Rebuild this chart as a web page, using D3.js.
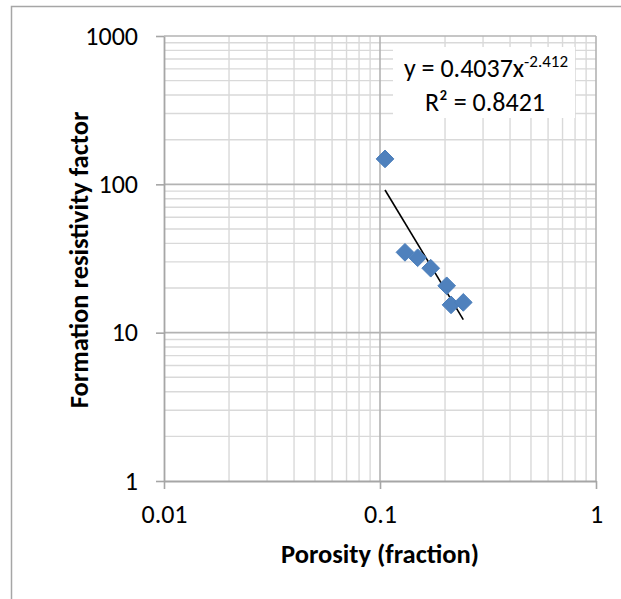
<!DOCTYPE html>
<html>
<head>
<meta charset="utf-8">
<script src="https://cdn.jsdelivr.net/npm/d3@7"></script>
<style>
	body { margin: 0; background: #fff; }
	svg text { font-family: Carlito, Lato, "Liberation Sans", sans-serif; fill: #000; }
	.title { font-weight: bold; }
</style>
</head>
<body>
<script>
/*chart data*/
var porosity = [0.1055, 0.1305, 0.1494, 0.1717, 0.2036, 0.2132, 0.2430];
var formationFactor = [148.4, 34.8, 32.0, 27.2, 20.7, 15.4, 16.0];

/*tick values and labels*/
var xTickValues = [0.01, 0.1, 1];
var xTickLabels = ["0.01", "0.1", "1"];
var yTickValues = [1, 10, 100, 1000];
var yTickLabels = ["1", "10", "100", "1000"];

/*power law trendline y = a * x^b shown on chart*/
var fitA = 0.4037;
var fitB = -2.412;
var fitR2 = "0.8421";

var xTitle = "Porosity (fraction)";
var yTitle = "Formation resistivity factor";

loadChart();

function loadChart() {
	var svgWidth = 621;
	var svgHeight = 599;

	var svg = d3.select("body")
		.append("svg")
		.attr("width", svgWidth)
		.attr("height", svgHeight);

	/*outer chart border (only top and left visible)*/
	svg.append("rect")
		.attr("x", 11.5)
		.attr("y", 6.5)
		.attr("width", 800)
		.attr("height", 800)
		.attr("fill", "none")
		.attr("stroke", "#a6a6a6")
		.attr("stroke-width", 1.5);

	/*plot area bounds*/
	var left = 164, right = 596, top = 36, bottom = 481;

	var xScale = d3.scaleLog().domain([0.01, 1]).range([left, right]);
	var yScale = d3.scaleLog().domain([1, 1000]).range([bottom, top]);

	/*minor gridlines 2..9 in each decade*/
	var xMinor = [], yMinor = [];
	[0.01, 0.1].forEach(function (d) {
		for (var k = 2; k <= 9; k++) xMinor.push(d * k);
	});
	[1, 10, 100].forEach(function (d) {
		for (var k = 2; k <= 9; k++) yMinor.push(d * k);
	});

	var grid = svg.append("g");

	grid.selectAll(".xminor")
		.data(xMinor)
		.enter()
		.append("line")
		  .attr("x1", d => xScale(d))
		  .attr("x2", d => xScale(d))
		  .attr("y1", top)
		  .attr("y2", bottom)
		  .attr("stroke", "#d9d9d9")
		  .attr("stroke-width", 1.4);

	grid.selectAll(".yminor")
		.data(yMinor)
		.enter()
		.append("line")
		  .attr("x1", left)
		  .attr("x2", right)
		  .attr("y1", d => yScale(d))
		  .attr("y2", d => yScale(d))
		  .attr("stroke", "#d9d9d9")
		  .attr("stroke-width", 1.4);

	/*major gridlines*/
	grid.selectAll(".xmajor")
		.data(xTickValues.slice(1))
		.enter()
		.append("line")
		  .attr("x1", d => xScale(d))
		  .attr("x2", d => xScale(d))
		  .attr("y1", top)
		  .attr("y2", bottom)
		  .attr("stroke", "#b3b3b3")
		  .attr("stroke-width", 1.6);

	grid.selectAll(".ymajor")
		.data(yTickValues.slice(1))
		.enter()
		.append("line")
		  .attr("x1", left)
		  .attr("x2", right)
		  .attr("y1", d => yScale(d))
		  .attr("y2", d => yScale(d))
		  .attr("stroke", "#b3b3b3")
		  .attr("stroke-width", 1.6);

	/*axes*/
	var bottomAxis = d3.axisBottom(xScale)
		.tickValues(xTickValues)
		.tickFormat((d, i) => xTickLabels[i])
		.tickSize(8)
		.tickPadding(15.5)
		.tickSizeOuter(0);
	var leftAxis = d3.axisLeft(yScale)
		.tickValues(yTickValues)
		.tickFormat((d, i) => yTickLabels[i])
		.tickSize(8)
		.tickPadding(18)
		.tickSizeOuter(0);

	var xAxis = svg.append("g")
		.attr("transform", `translate(0, ${bottom})`)
		.call(bottomAxis);
	var yAxis = svg.append("g")
		.attr("transform", `translate(${left}, 0)`)
		.call(leftAxis);

	[xAxis, yAxis].forEach(function (ax) {
		ax.select(".domain").attr("stroke", "#a6a6a6").attr("stroke-width", 1.8);
		ax.selectAll(".tick line").attr("stroke", "#a6a6a6").attr("stroke-width", 1.6);
		ax.selectAll(".tick text")
			.attr("fill", "#000")
			.style("font-size", "26px")
			.style("font-family", "Carlito, Lato, 'Liberation Sans', sans-serif");
	});

	/*equation label box*/
	var label = svg.append("g");
	label.append("rect")
		.attr("x", 393)
		.attr("y", 47)
		.attr("width", 182)
		.attr("height", 71)
		.attr("fill", "#fff");

	var eq = label.append("text")
		.attr("x", 486)
		.attr("y", 77)
		.attr("text-anchor", "middle")
		.style("font-size", "26px");
	eq.append("tspan").text("y = " + fitA + "x");
	eq.append("tspan")
		.attr("dy", -10)
		.style("font-size", "17px")
		.text(String(fitB));

	label.append("text")
		.attr("x", 485)
		.attr("y", 111)
		.attr("text-anchor", "middle")
		.style("font-size", "26px")
		.text("R² = " + fitR2);

	/*trendline over the range of the data*/
	var xExtent = d3.extent(porosity);
	var trend = [xExtent[0], xExtent[1]].map(x => [x, fitA * Math.pow(x, fitB)]);
	svg.append("path")
		.datum(trend)
		.attr("d", d3.line().x(d => xScale(d[0])).y(d => yScale(d[1])))
		.attr("fill", "none")
		.attr("stroke", "#000")
		.attr("stroke-width", 1.6);

	/*diamond markers*/
	var points = porosity.map((p, i) => ({ x: p, y: formationFactor[i] }));
	svg.selectAll(".point")
		.data(points)
		.enter()
		.append("path")
		  .attr("class", "point")
		  .attr("d", d3.symbol().type(d3.symbolDiamond2).size(200))
		  .attr("transform", d => `translate(${xScale(d.x)}, ${yScale(d.y)})`)
		  .attr("fill", "#4f81bd")
		  .attr("stroke", "#4a7ebb")
		  .attr("stroke-width", 1);

	/*axis titles*/
	svg.append("text")
		.attr("class", "title")
		.attr("x", 380)
		.attr("y", 563)
		.attr("text-anchor", "middle")
		.style("font-size", "26.5px")
		.text(xTitle);

	svg.append("text")
		.attr("class", "title")
		.attr("transform", "translate(88, 260) rotate(-90)")
		.attr("text-anchor", "middle")
		.style("font-size", "26.5px")
		.text(yTitle);
}
</script>
</body>
</html>
